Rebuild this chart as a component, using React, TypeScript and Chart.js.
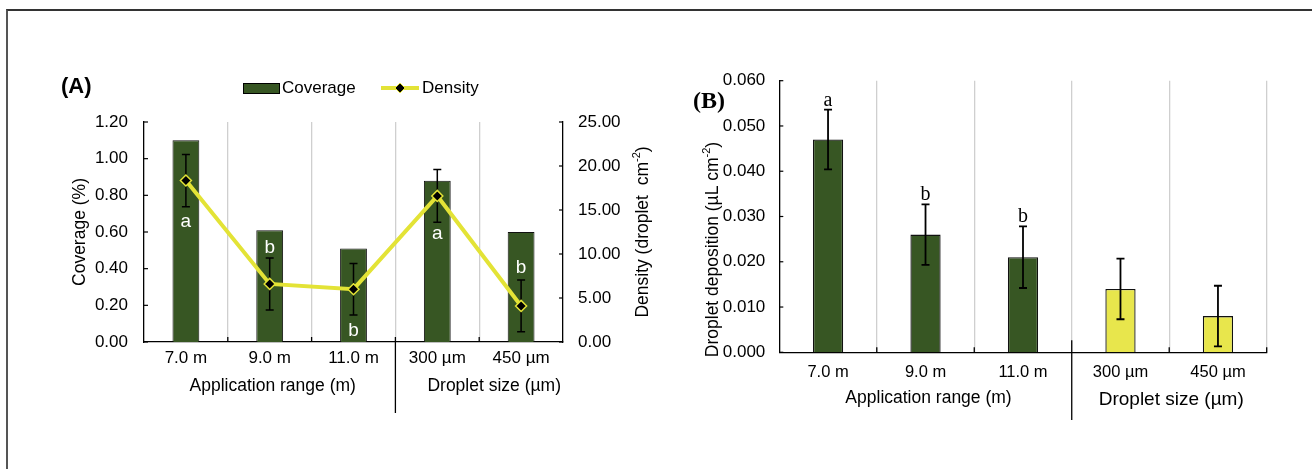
import React, { useEffect, useRef } from 'react';
import { Chart, registerables } from 'chart.js';

Chart.register(...registerables);

// ---------------- data ----------------
const categories = ['7.0 m', '9.0 m', '11.0 m', '300 µm', '450 µm'];
const groupTitles = ['Application range (m)', 'Droplet size (µm)'];
const groupStart = [0, 3]; // first category index of each group

// Panel A
const coverage = [1.1, 0.61, 0.51, 0.88, 0.6];
const density = [18.35, 6.6, 6.0, 16.6, 4.1];
const densityErr = [2.97, 2.95, 2.93, 3.0, 2.94];
const coverageLetters = ['a', 'b', 'b', 'a', 'b'];
const coverageLetterAt = [0.629, 0.485, 0.033, 0.56, 0.375]; // coverage-axis units (baseline)
const coverageTicks = { min: 0, max: 1.2, step: 0.2 };
const densityTicks = { min: 0, max: 25, step: 5 };

// Panel B
const deposition = [0.047, 0.026, 0.021, 0.014, 0.008];
const depositionErr = [0.0066, 0.0067, 0.0068, 0.0067, 0.0067];
const depositionLetters = ['a', 'b', 'b', '', ''];
const depositionTicks = { min: 0, max: 0.06, step: 0.01 };

// ---------------- style ----------------
const GREEN = '#375623';
const YELLOW_LINE = '#E3E336';
const YELLOW_BAR = '#E8E64C';
const GRID = '#CFCFCF';
const SANS = "'Liberation Sans', Arial, Helvetica, sans-serif";
const SERIF = "'Liberation Serif', 'Times New Roman', serif";

type Part = { text: string; sup?: boolean };

function drawRotated(ctx: CanvasRenderingContext2D, parts: Part[], cx: number, cy: number, size: number) {
  ctx.save();
  ctx.translate(cx, cy);
  ctx.rotate(-Math.PI / 2);
  ctx.fillStyle = '#000';
  ctx.textBaseline = 'middle';
  ctx.textAlign = 'left';
  const supSize = Math.round(size * 0.62);
  const widths = parts.map((p) => {
    ctx.font = `${p.sup ? supSize : size}px ${SANS}`;
    return ctx.measureText(p.text).width;
  });
  const total = widths.reduce((a, b) => a + b, 0);
  let x = -total / 2;
  parts.forEach((p, i) => {
    ctx.font = `${p.sup ? supSize : size}px ${SANS}`;
    ctx.fillText(p.text, x, p.sup ? -size * 0.35 : 0);
    x += widths[i];
  });
  ctx.restore();
}

function drawText(ctx: CanvasRenderingContext2D, text: string, x: number, y: number, font: string, align: CanvasTextAlign = 'center', color = '#000') {
  ctx.save();
  ctx.font = font;
  ctx.fillStyle = color;
  ctx.textAlign = align;
  ctx.textBaseline = 'middle';
  ctx.fillText(text, x, y);
  ctx.restore();
}

function line(ctx: CanvasRenderingContext2D, x1: number, y1: number, x2: number, y2: number, color = '#000', w = 1) {
  ctx.save();
  ctx.strokeStyle = color;
  ctx.lineWidth = w;
  ctx.beginPath();
  ctx.moveTo(x1, y1);
  ctx.lineTo(x2, y2);
  ctx.stroke();
  ctx.restore();
}

function errorBar(ctx: CanvasRenderingContext2D, px: number, top: number, bot: number, w: number) {
  ctx.save();
  ctx.strokeStyle = '#000';
  ctx.lineWidth = w;
  ctx.beginPath();
  ctx.moveTo(px, top);
  ctx.lineTo(px, bot);
  ctx.moveTo(px - 4, top);
  ctx.lineTo(px + 4, top);
  ctx.moveTo(px - 4, bot);
  ctx.lineTo(px + 4, bot);
  ctx.stroke();
  ctx.restore();
}

// inward ticks on x axis boundaries and group divider
function drawXDecor(chart: any, dividerAbove: number, dividerBottom: number, includeLast: boolean) {
  const ctx = chart.ctx as CanvasRenderingContext2D;
  const x = chart.scales.x;
  const axisY = chart.chartArea.bottom;
  const n = categories.length;
  const last = includeLast ? n : n - 1;
  for (let i = 1; i <= last; i++) {
    const px = x.getPixelForValue(i - 0.5);
    if (i === groupStart[1]) {
      line(ctx, px, axisY - dividerAbove, px, dividerBottom, '#000', 1.3);
    } else {
      line(ctx, px, axisY - 5, px, axisY, '#000', 1.3);
    }
  }
}

function drawYTicks(chart: any, id: string, dir: number) {
  const ctx = chart.ctx as CanvasRenderingContext2D;
  const s = chart.scales[id];
  const ax = dir > 0 ? chart.chartArea.left : chart.chartArea.right;
  s.ticks.forEach((t: any) => {
    const py = s.getPixelForValue(t.value);
    line(ctx, ax, py, ax + dir * 4, py, '#000', 1.2);
  });
}

function makeConfigA(): any {
  const plugin = {
    id: 'panelA',
    afterDatasetDraw(chart: any, args: any) {
      if (args.index !== 0) return;
      const ctx = chart.ctx as CanvasRenderingContext2D;
      const x = chart.scales.x;
      const y = chart.scales.y;
      const y2 = chart.scales.y2;
      density.forEach((v, i) => {
        const px = x.getPixelForValue(i);
        errorBar(ctx, px, y2.getPixelForValue(v + densityErr[i]), y2.getPixelForValue(v - densityErr[i]), 1.5);
      });
      ctx.save();
      ctx.fillStyle = '#fff';
      ctx.font = `19px ${SANS}`;
      ctx.textAlign = 'center';
      ctx.textBaseline = 'alphabetic';
      coverageLetters.forEach((l, i) => {
        ctx.fillText(l, x.getPixelForValue(i), y.getPixelForValue(coverageLetterAt[i]));
      });
      ctx.restore();
    },
    afterDraw(chart: any) {
      const ctx = chart.ctx as CanvasRenderingContext2D;
      const x = chart.scales.x;
      const ca = chart.chartArea;
      const midY = (ca.top + ca.bottom) / 2;
      drawXDecor(chart, 5, 413, false);
      drawYTicks(chart, 'y', 1);
      drawYTicks(chart, 'y2', -1);
      // axis titles
      drawRotated(ctx, [{ text: 'Coverage (%)' }], 80, midY, 17.5);
      drawRotated(ctx, [{ text: 'Density (droplet  cm' }, { text: '-2', sup: true }, { text: ')' }], 643, midY, 17.5);
      // group titles
      const appX = (x.getPixelForValue(groupStart[0]) + x.getPixelForValue(groupStart[1] - 1)) / 2 + 3;
      const dropX = (x.getPixelForValue(groupStart[1]) + x.getPixelForValue(categories.length - 1)) / 2 + 15;
      drawText(ctx, groupTitles[0], appX, 386, `17.5px ${SANS}`);
      drawText(ctx, groupTitles[1], dropX, 386, `17.5px ${SANS}`);
      // panel label
      drawText(ctx, '(A)', 61, 87, `bold 22px ${SANS}`, 'left');
      // legend
      ctx.save();
      ctx.fillStyle = GREEN;
      ctx.fillRect(243.5, 83.5, 36, 10);
      ctx.strokeStyle = '#000';
      ctx.lineWidth = 1;
      ctx.strokeRect(243.5, 83.5, 36, 10);
      ctx.restore();
      drawText(ctx, 'Coverage', 282, 88, `17px ${SANS}`, 'left');
      line(ctx, 381, 88, 419, 88, YELLOW_LINE, 4);
      ctx.save();
      ctx.fillStyle = '#000';
      ctx.strokeStyle = YELLOW_LINE;
      ctx.lineWidth = 1;
      ctx.beginPath();
      ctx.moveTo(400, 83);
      ctx.lineTo(405, 88);
      ctx.lineTo(400, 93);
      ctx.lineTo(395, 88);
      ctx.closePath();
      ctx.fill();
      ctx.stroke();
      ctx.restore();
      drawText(ctx, 'Density', 422, 88, `17px ${SANS}`, 'left');
    },
  };

  return {
    type: 'bar',
    data: {
      labels: categories,
      datasets: [
        {
          type: 'bar',
          label: 'Coverage',
          data: coverage,
          yAxisID: 'y',
          backgroundColor: GREEN,
          borderColor: '#111',
          borderWidth: 1,
          barPercentage: 0.32,
          categoryPercentage: 1,
          order: 1,
        },
        {
          type: 'line',
          label: 'Density',
          data: density,
          yAxisID: 'y2',
          borderColor: YELLOW_LINE,
          borderWidth: 4,
          fill: false,
          tension: 0,
          pointStyle: 'rectRot',
          pointRadius: 5.5,
          pointBackgroundColor: '#000',
          pointBorderColor: YELLOW_LINE,
          pointBorderWidth: 1.5,
          order: 0,
        },
      ],
    },
    options: {
      responsive: false,
      animation: false,
      events: [],
      layout: { padding: { top: 122, left: 0, right: 652, bottom: 0 } },
      plugins: { legend: { display: false }, tooltip: { enabled: false } },
      scales: {
        x: {
          grid: {
            display: true,
            offset: true,
            drawTicks: false,
            lineWidth: 1.3,
            color: (c: any) => (c.type !== 'tick' || c.index === 0 ? 'rgba(0,0,0,0)' : GRID),
          },
          border: { display: true, color: '#000', width: 1.3 },
          ticks: { font: { family: SANS, size: 17 }, color: '#000', padding: 6, maxRotation: 0 },
          afterFit: (s: any) => {
            s.height = 127;
          },
        },
        y: {
          position: 'left',
          min: coverageTicks.min,
          max: coverageTicks.max,
          grid: { display: false, drawTicks: false },
          border: { display: true, color: '#000', width: 1.3 },
          ticks: {
            stepSize: coverageTicks.step,
            callback: (v: number) => v.toFixed(2),
            font: { family: SANS, size: 17 },
            color: '#000',
            padding: 16,
          },
          afterFit: (s: any) => {
            s.width = 144;
          },
        },
        y2: {
          position: 'right',
          min: densityTicks.min,
          max: densityTicks.max,
          grid: { display: false, drawTicks: false },
          border: { display: true, color: '#000', width: 1.3 },
          ticks: {
            stepSize: densityTicks.step,
            callback: (v: number) => v.toFixed(2),
            font: { family: SANS, size: 17 },
            color: '#000',
            padding: 15,
          },
          afterFit: (s: any) => {
            s.width = 97;
          },
        },
      },
    },
    plugins: [plugin],
  };
}

function makeConfigB(): any {
  const plugin = {
    id: 'panelB',
    afterDatasetsDraw(chart: any) {
      const ctx = chart.ctx as CanvasRenderingContext2D;
      const x = chart.scales.x;
      const y = chart.scales.y;
      deposition.forEach((v, i) => {
        const px = x.getPixelForValue(i);
        const top = y.getPixelForValue(v + depositionErr[i]);
        errorBar(ctx, px, top, y.getPixelForValue(v - depositionErr[i]), 1.8);
        if (depositionLetters[i]) {
          ctx.save();
          ctx.font = `20px ${SERIF}`;
          ctx.fillStyle = '#000';
          ctx.textAlign = 'center';
          ctx.textBaseline = 'alphabetic';
          ctx.fillText(depositionLetters[i], px, top - 4);
          ctx.restore();
        }
      });
    },
    afterDraw(chart: any) {
      const ctx = chart.ctx as CanvasRenderingContext2D;
      const x = chart.scales.x;
      const ca = chart.chartArea;
      const midY = (ca.top + ca.bottom) / 2;
      drawXDecor(chart, 12, 420, true);
      drawYTicks(chart, 'y', 1);
      drawRotated(ctx, [{ text: 'Droplet deposition (µL cm' }, { text: '-2', sup: true }, { text: ')' }], 713, midY + 33, 17.5);
      const appX = (x.getPixelForValue(groupStart[0]) + x.getPixelForValue(groupStart[1] - 1)) / 2 + 3;
      const dropX = (x.getPixelForValue(groupStart[1]) + x.getPixelForValue(categories.length - 1)) / 2 + 2;
      drawText(ctx, groupTitles[0], appX, 398, `17.5px ${SANS}`);
      drawText(ctx, groupTitles[1], dropX, 400, `19px ${SANS}`);
      drawText(ctx, '(B)', 693, 102, `bold 24px ${SERIF}`, 'left');
    },
  };

  return {
    type: 'bar',
    data: {
      labels: categories,
      datasets: [
        {
          label: 'Droplet deposition',
          data: deposition,
          backgroundColor: categories.map((_, i) => (i < groupStart[1] ? GREEN : YELLOW_BAR)),
          borderColor: '#111',
          borderWidth: 1.3,
          barPercentage: 0.31,
          categoryPercentage: 1,
        },
      ],
    },
    options: {
      responsive: false,
      animation: false,
      events: [],
      layout: { padding: { top: 80.7, left: 660, right: 45.3, bottom: 0 } },
      plugins: { legend: { display: false }, tooltip: { enabled: false } },
      scales: {
        x: {
          grid: {
            display: true,
            offset: true,
            drawTicks: false,
            lineWidth: 1.3,
            color: (c: any) => (c.type === 'tick' && c.index === 0 ? 'rgba(0,0,0,0)' : GRID),
          },
          border: { display: true, color: '#000', width: 1.3 },
          ticks: { font: { family: SANS, size: 16.5 }, color: '#000', padding: 10, maxRotation: 0 },
          afterFit: (s: any) => {
            s.height = 116.7;
          },
        },
        y: {
          position: 'left',
          min: depositionTicks.min,
          max: depositionTicks.max,
          grid: { display: false, drawTicks: false },
          border: { display: true, color: '#000', width: 1.3 },
          ticks: {
            stepSize: depositionTicks.step,
            callback: (v: number) => v.toFixed(3),
            font: { family: SANS, size: 17 },
            color: '#000',
            padding: 14,
          },
          afterFit: (s: any) => {
            s.width = 119.3;
          },
        },
      },
    },
    plugins: [plugin],
  };
}

export default function App() {
  const refA = useRef<HTMLCanvasElement>(null);
  const refB = useRef<HTMLCanvasElement>(null);

  useEffect(() => {
    const a = new Chart(refA.current as HTMLCanvasElement, makeConfigA());
    const b = new Chart(refB.current as HTMLCanvasElement, makeConfigB());
    return () => {
      a.destroy();
      b.destroy();
    };
  }, []);

  return (
    <div style={{ position: 'absolute', left: 0, top: 0, width: 1312, height: 469, background: '#fff', overflow: 'hidden' }}>
      <div
        style={{
          position: 'absolute',
          left: 6,
          top: 9,
          width: 1320,
          height: 480,
          borderTop: '2px solid #333',
          borderLeft: '2px solid #555',
        }}
      />
      <canvas ref={refA} width={1312} height={469} style={{ position: 'absolute', left: 0, top: 0 }} />
      <canvas ref={refB} width={1312} height={469} style={{ position: 'absolute', left: 0, top: 0 }} />
    </div>
  );
}
